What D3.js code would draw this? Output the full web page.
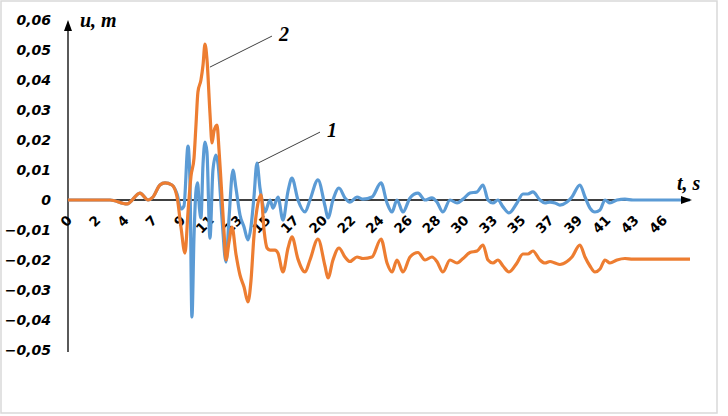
<!DOCTYPE html>
<html>
<head>
<meta charset="utf-8">
<script src="https://cdn.jsdelivr.net/npm/d3@7"></script>
<style>
    body { margin: 0; background: #fff; }
    svg { display: block; }
</style>
</head>
<body>
<div id="chart"></div>
<script>
// time (s) and displacement (m)
const t1 = [0, 3.22, 4.52, 5.51, 6.13, 6.51, 7.04, 7.43, 7.96, 8.35, 8.65, 8.88, 9.19, 9.34, 9.49, 9.65, 9.80, 9.92, 10.07, 10.18,
    10.34, 10.49, 10.64, 10.87, 11.10, 11.33, 11.49, 11.79, 12.10, 12.33, 12.63, 12.86, 13.17, 13.48, 13.78, 14.01, 14.24, 14.47, 14.70, 14.85,
    15.08, 15.47, 15.70, 16.08, 16.46, 16.85, 17.15, 17.61, 18.15, 18.53, 19.14, 19.68, 19.91, 20.29, 20.75, 21.21, 21.59, 22.13, 22.59, 23.28,
    23.97, 24.43, 24.81, 25.19, 25.65, 26.19, 26.80, 27.34, 27.87, 28.25, 28.71, 29.25, 29.79, 30.25, 30.78, 31.32, 31.78, 32.16, 32.54, 32.92,
    33.31, 33.77, 34.38, 34.84, 35.22, 35.60, 36.14, 36.52, 36.91, 37.29, 37.67, 38.21, 38.59, 39.20, 39.59, 39.97, 40.35, 40.74, 41.12, 41.50,
    42.04, 42.65, 43.26, 47.63];
const u1 = [0, 0, -0.0013, 0.0023, 0, 0.001, 0.005, 0.0057, 0.005, 0.002, -0.003, -0.002, 0.018, 0.006, -0.039, -0.012, 0.003, 0.0057, -0.003, -0.006,
    0.012, 0.0193, 0.016, -0.0127, 0.010, 0.015, 0.012, -0.006, -0.0207, -0.006, 0.010, 0.004, -0.005, -0.009, -0.0133, -0.009, 0.001, 0.0123, 0.004, 0,
    -0.004, 0, -0.0027, 0.001, -0.0067, 0.003, 0.0073, 0, -0.004, 0, 0.0067, -0.002, -0.006, 0, 0.004, 0.0007, -0.0007, 0.001, 0.0003, 0.001,
    0.0057, -0.001, -0.004, 0, -0.004, 0.0007, 0.0023, 0, 0.0007, -0.0007, -0.004, 0, -0.001, 0.0003, 0.0023, 0.0027, 0.005, 0, -0.001, 0,
    -0.0023, -0.0043, -0.001, 0.002, 0.002, 0.0027, 0, -0.001, -0.0007, -0.001, -0.0017, -0.0007, 0.001, 0.005, 0.001, -0.0027, -0.004, -0.0033, 0, -0.001,
    0, 0.0003, 0, 0];

const t2 = [0, 3.22, 4.52, 5.51, 6.13, 6.51, 7.04, 7.43, 7.96, 8.35, 8.65, 8.96, 9.19, 9.42, 9.65, 9.80, 9.95, 10.18, 10.34, 10.49,
    10.64, 10.87, 11.03, 11.18, 11.41, 11.56, 11.72, 11.94, 12.10, 12.33, 12.56, 12.86, 13.17, 13.48, 13.78, 14.01, 14.24, 14.47, 14.78, 15.01,
    15.24, 15.47, 15.85, 16.08, 16.46, 16.85, 17.15, 17.61, 18.15, 18.53, 19.14, 19.68, 19.91, 20.29, 20.75, 21.21, 21.59, 22.13, 22.59, 23.28,
    23.97, 24.43, 24.81, 25.19, 25.65, 26.19, 26.80, 27.34, 27.87, 28.25, 28.71, 29.25, 29.79, 30.25, 30.78, 31.32, 31.78, 32.16, 32.54, 32.92,
    33.31, 33.77, 34.38, 34.84, 35.22, 35.60, 36.14, 36.52, 36.91, 37.29, 37.67, 38.21, 38.59, 39.20, 39.59, 39.97, 40.35, 40.74, 41.12, 41.50,
    42.04, 42.65, 43.26, 47.63];
const u2 = [0, 0, -0.0013, 0.0023, 0, 0.001, 0.005, 0.0057, 0.005, 0.001, -0.009, -0.0177, -0.004, 0.008, 0.014, 0.025, 0.036, 0.040, 0.045, 0.052,
    0.047, 0.029, 0.019, 0.023, 0.025, 0.017, 0.006, -0.010, -0.020, -0.014, -0.009, -0.018, -0.025, -0.029, -0.034, -0.027, -0.012, -0.003, 0.0017, -0.010,
    -0.016, -0.0167, -0.0167, -0.0177, -0.024, -0.016, -0.0123, -0.0197, -0.024, -0.020, -0.013, -0.022, -0.026, -0.020, -0.016, -0.019, -0.0205, -0.019, -0.0195, -0.019,
    -0.013, -0.021, -0.024, -0.020, -0.024, -0.019, -0.0175, -0.020, -0.019, -0.0205, -0.024, -0.020, -0.021, -0.0195, -0.0175, -0.017, -0.015, -0.020, -0.021, -0.020,
    -0.022, -0.024, -0.021, -0.018, -0.018, -0.017, -0.020, -0.021, -0.0205, -0.021, -0.0215, -0.0205, -0.019, -0.015, -0.019, -0.022, -0.024, -0.023, -0.020, -0.021,
    -0.020, -0.0195, -0.0197, -0.0197];

const xTickLabels = ["0", "2", "4", "7", "9", "11", "13", "15", "17", "20", "22", "24", "26", "28", "30", "33", "35", "37", "39", "41", "43", "46"];
const xTickStep = 2.17;
const yTicks = [-0.05, -0.04, -0.03, -0.02, -0.01, 0, 0.01, 0.02, 0.03, 0.04, 0.05, 0.06];

// callouts: curve number and the point its leader touches
const callouts = [
    { label: "2", t: 10.87, u: 0.0443 },
    { label: "1", t: 14.55, u: 0.0123 }
];

const svgWidth = 728;
const svgHeight = 416;
const plotLeft = 68;
const plotRight = 690;
const plotTop = 20;
const plotBottom = 350;

const blue = "#5b9bd5";
const orange = "#ed7d31";

const svg = d3.select("#chart")
            .append("svg")
            .attr("width", svgWidth)
            .attr("height", svgHeight);

svg.append("rect")
    .attr("x", 1)
    .attr("y", 1)
    .attr("width", 716)
    .attr("height", 412)
    .attr("fill", "#fff")
    .attr("stroke", "#d9d9d9")
    .attr("stroke-width", 1.5);

const scaleX = d3.scaleLinear()
                .domain([0, d3.max(t1)])
                .range([plotLeft, plotRight]);
const scaleY = d3.scaleLinear()
                .domain([-0.05, 0.06])
                .range([plotBottom, plotTop]);

const y0 = scaleY(0);

// axis lines
svg.append("line")
    .attr("x1", plotLeft).attr("x2", plotLeft)
    .attr("y1", plotTop + 4).attr("y2", plotBottom + 2)
    .attr("stroke", "#000")
    .attr("stroke-width", 1.3);

svg.append("line")
    .attr("x1", plotLeft).attr("x2", plotRight)
    .attr("y1", y0).attr("y2", y0)
    .attr("stroke", "#000")
    .attr("stroke-width", 1.3);

// y tick labels
svg.append("g")
    .selectAll("text")
    .data(yTicks)
    .enter()
    .append("text")
    .attr("x", 51)
    .attr("y", d => scaleY(d) + 5)
    .attr("text-anchor", "end")
    .style("font-family", "DejaVu Sans")
    .style("font-weight", "bold")
    .style("font-style", "italic")
    .style("font-size", "14px")
    .text(d => d === 0 ? "0" : d3.format(".2f")(d).replace(".", ","));

// x tick labels, rotated
svg.append("g")
    .selectAll("text")
    .data(xTickLabels)
    .enter()
    .append("text")
    .attr("transform", (d, i) => `translate(${scaleX(i * xTickStep) + 5},221) rotate(-45)`)
    .attr("text-anchor", "end")
    .style("font-family", "DejaVu Sans")
    .style("font-weight", "bold")
    .style("font-size", "13.5px")
    .text(d => d);

const line = d3.line()
            .x(d => scaleX(d[0]))
            .y(d => scaleY(d[1]))
            .curve(d3.curveMonotoneX);

svg.append("path")
    .datum(d3.zip(t1, u1))
    .attr("d", line)
    .attr("fill", "none")
    .attr("stroke", blue)
    .attr("stroke-width", 3.2)
    .attr("stroke-linejoin", "round");

svg.append("path")
    .datum(d3.zip(t2, u2))
    .attr("d", line)
    .attr("fill", "none")
    .attr("stroke", orange)
    .attr("stroke-width", 3.2)
    .attr("stroke-linejoin", "round");

// arrow heads
svg.append("path")
    .attr("d", `M${plotLeft},${plotTop} L${plotLeft - 4},${plotTop + 11} L${plotLeft + 4},${plotTop + 11} Z`)
    .attr("fill", "#000");

svg.append("path")
    .attr("d", `M${plotRight + 2},${y0} L${plotRight - 9},${y0 - 4} L${plotRight - 9},${y0 + 4} Z`)
    .attr("fill", "#000");

// axis titles
svg.append("text")
    .attr("x", 80)
    .attr("y", 27)
    .style("font-family", "Liberation Serif")
    .style("font-weight", "bold")
    .style("font-style", "italic")
    .style("font-size", "20px")
    .text("u, m");

svg.append("text")
    .attr("x", 677)
    .attr("y", 190)
    .style("font-family", "Liberation Serif")
    .style("font-weight", "bold")
    .style("font-style", "italic")
    .style("font-size", "20px")
    .text("t, s");

// callout leaders
callouts.forEach(c => {
    const px = scaleX(c.t);
    const py = scaleY(c.u);
    svg.append("line")
        .attr("x1", px).attr("y1", py)
        .attr("x2", px + 62).attr("y2", py - 31)
        .attr("stroke", "#404040")
        .attr("stroke-width", 1);
    svg.append("text")
        .attr("x", px + 69)
        .attr("y", py - 26)
        .style("font-family", "Liberation Serif")
        .style("font-weight", "bold")
        .style("font-style", "italic")
        .style("font-size", "20px")
        .text(c.label);
});
</script>
</body>
</html>
